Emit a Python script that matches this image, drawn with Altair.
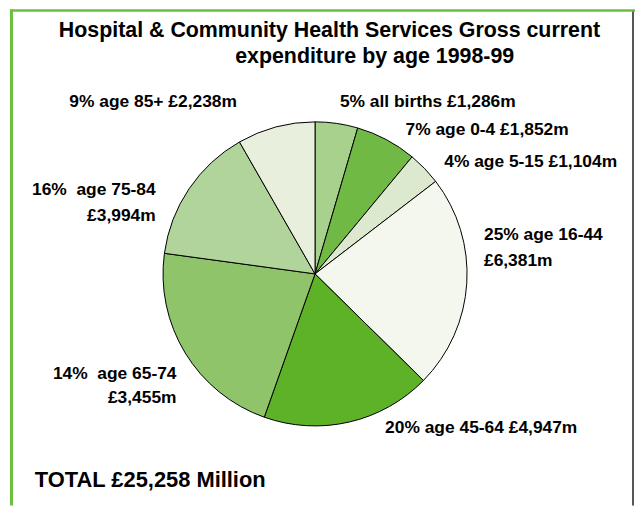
import altair as alt
import pandas as pd

# Slice shares as drawn in the picture (percent of the circle), clockwise from 12 o'clock
groups = ["all births", "age 0-4", "age 5-15", "age 16-44", "age 45-64", "age 65-74", "age 75-84", "age 85+"]
shares = [4.53, 6.49, 3.57, 22.78, 18.06, 21.75, 14.56, 8.28]
colors = ["#a9d18e", "#70b944", "#dde9cf", "#f4f7ee", "#5db227", "#8fc46b", "#b0d499", "#e8efdd"]

# Label texts as printed on the chart
label_lines = [
    ["5% all births £1,286m"],
    ["7% age 0-4 £1,852m"],
    ["4% age 5-15 £1,104m"],
    ["25% age 16-44", "£6,381m"],
    ["20% age 45-64 £4,947m"],
    ["14%\u00a0 age 65-74", "£3,455m"],
    ["16%\u00a0 age 75-84", "£3,994m"],
    ["9% age 85+ £2,238m"],
]
title_lines = ["Hospital & Community Health Services Gross current", "expenditure by age 1998-99"]
total_text = "TOTAL £25,258 Million"

df = pd.DataFrame({"group": groups, "share": shares, "idx": list(range(len(groups)))})

FONT = "Liberation Sans"
W, H = 631, 499

pie = alt.Chart(df).mark_arc(radius=153, stroke="black", strokeWidth=1).encode(
    theta=alt.Theta("share:Q", stack=True),
    color=alt.Color("group:N", scale=alt.Scale(domain=groups, range=colors), legend=None),
    order=alt.Order("idx:Q"),
    x=alt.value(309),
    y=alt.value(266),
)

# label layout (x, y, align) for each line of each label
label_layout = [
    [(334, 92.7, "left")],
    [(400, 121, "left")],
    [(439, 153, "left")],
    [(479, 227, "left"), (479, 252.7, "left")],
    [(379.5, 421, "left")],
    [(169.6, 366.3, "right"), (169.6, 391.3, "right")],
    [(148.6, 181.3, "right"), (148.6, 208, "right")],
    [(61.7, 92.7, "left")],
]

base = alt.Chart(pd.DataFrame({"a": [0]}))
layers = [pie]
for lines, lay in zip(label_lines, label_layout):
    for txt, (lx, ly, al) in zip(lines, lay):
        layers.append(
            base.mark_text(text=txt, font=FONT, fontSize=17.5, fontWeight="bold", align=al,
                           baseline="middle", color="black").encode(x=alt.value(lx), y=alt.value(ly))
        )

layers.append(base.mark_text(text=title_lines[0], font=FONT, fontSize=21.5, fontWeight="bold",
                             align="center", baseline="middle", color="black").encode(x=alt.value(323.5), y=alt.value(21.3)))
layers.append(base.mark_text(text=title_lines[1], font=FONT, fontSize=21.5, fontWeight="bold",
                             align="center", baseline="middle", color="black").encode(x=alt.value(369), y=alt.value(48)))
layers.append(base.mark_text(text=total_text, font=FONT, fontSize=22, fontWeight="bold",
                             align="left", baseline="middle", color="black").encode(x=alt.value(27), y=alt.value(473)))

# frame lines
layers.append(base.mark_rule(color="#6abf3d", strokeWidth=3).encode(
    x=alt.value(3.5), y=alt.value(0), y2=alt.value(H)))
layers.append(base.mark_rule(color="#6abf3d", strokeWidth=2.5).encode(
    x=alt.value(2), x2=alt.value(W), y=alt.value(1)))
layers.append(base.mark_rule(color="#555555", strokeWidth=2).encode(
    x=alt.value(629), y=alt.value(2), y2=alt.value(H)))

chart = alt.layer(*layers).properties(
    width=W, height=H, padding=0, autosize=alt.AutoSizeParams(type="none"), background="white"
).configure_view(stroke=None)

chart.save("out.html", embed_options={"renderer": "svg", "actions": False})
